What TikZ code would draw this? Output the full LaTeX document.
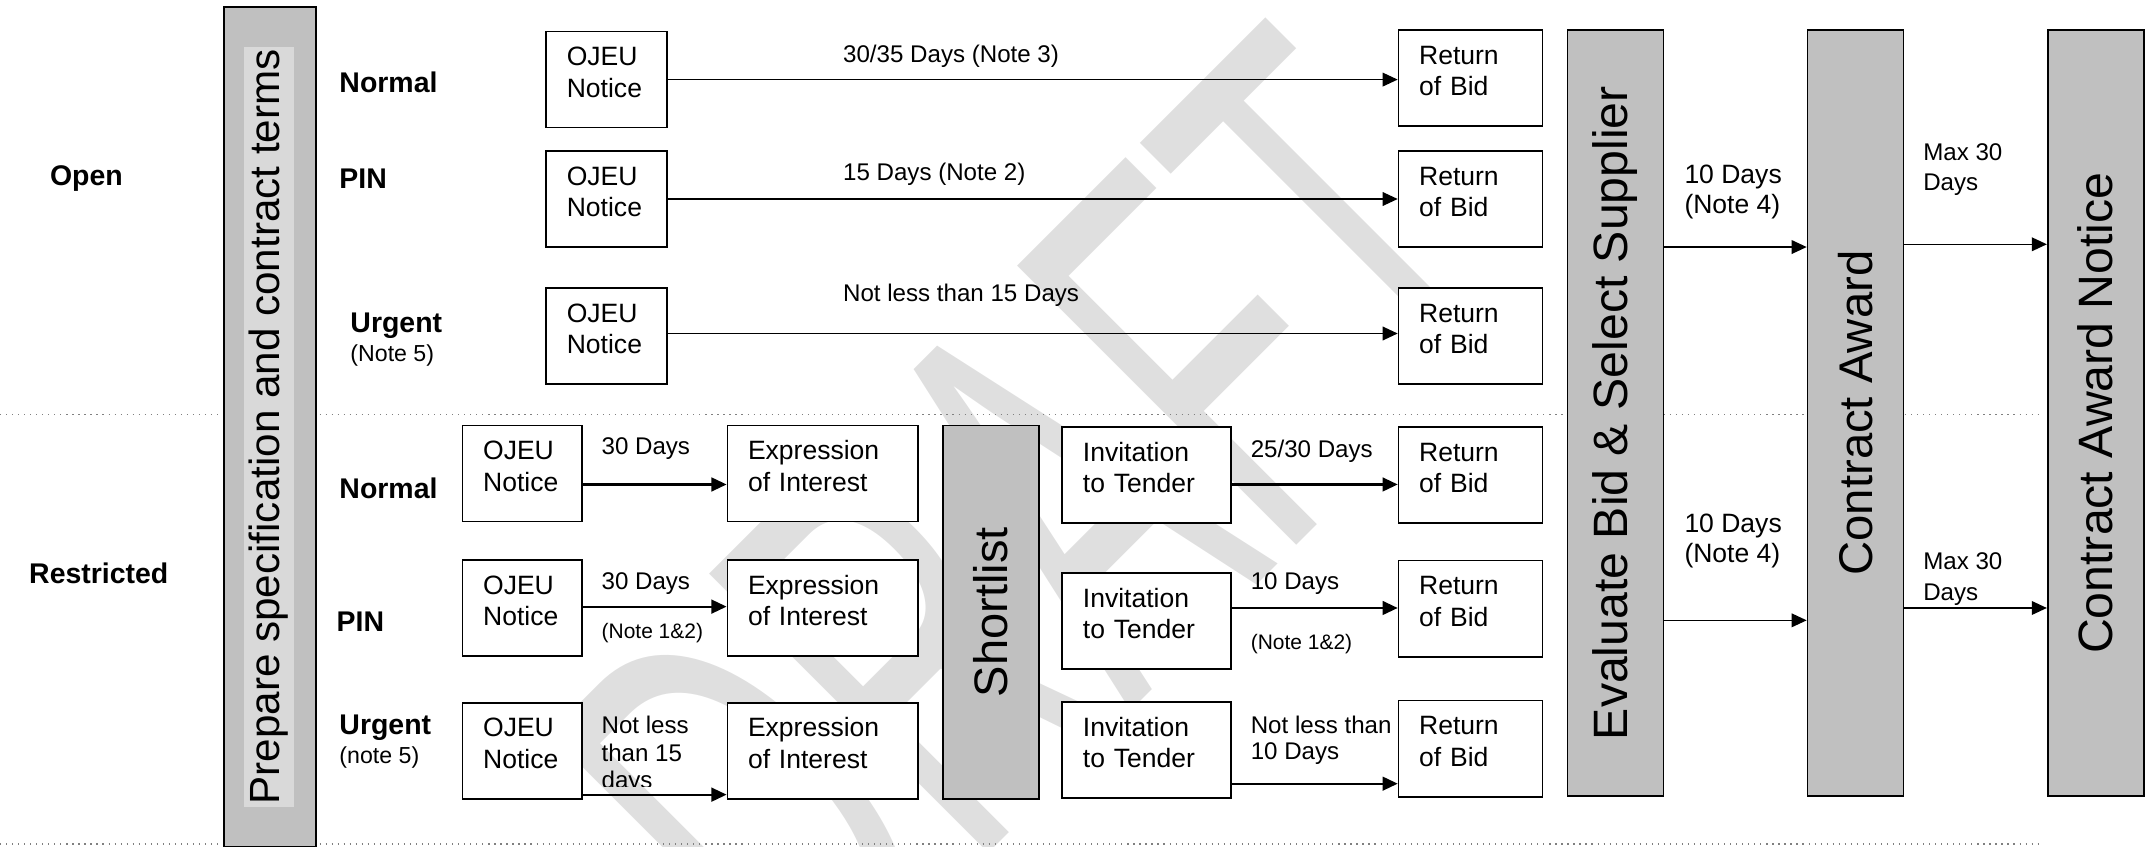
\documentclass[tikz,border=0pt]{standalone}
\usepackage{fontspec}
\setmainfont{Liberation Sans}
\usetikzlibrary{arrows.meta}
\definecolor{colgray}{RGB}{192,192,192}
\definecolor{stripgray}{RGB}{217,217,217}

\begin{document}
\begin{tikzpicture}[x=0.02cm,y=-0.02cm,>={Triangle[length=2.2mm,width=2mm]},
	box/.style={draw,fill=white,line width=.7pt,minimum height=1.4cm,inner xsep=.3cm,text width=#1,align=left,text height=8pt,text depth=19.4pt,font=\fontsize{11}{13}\selectfont},
	col/.style={draw,fill=colgray,line width=.7pt,minimum width=1.4cm},
	coltext/.style={rotate=90,inner sep=0pt,font=\fontsize{20}{22}\selectfont},
	rowlab/.style={anchor=west,inner sep=0pt,font=\bfseries\fontsize{11.8}{14}\selectfont},
	days/.style={anchor=west,align=left,inner sep=0pt,font=\fontsize{10}{10.8}\selectfont},
	note/.style={anchor=west,inner sep=0pt,font=\fontsize{8.7}{10}\selectfont}]
\useasboundingbox (0,0) rectangle (1568,617);

% watermark
\begin{scope}
\clip (0,0) rectangle (1568,617);
\begin{scope}[shift={(1129.5,212.5)},rotate=45,xscale=0.547]
\node[anchor=base east,inner sep=0pt,transform shape,text=gray!25,font=\fontsize{238}{238}\selectfont] (draft) at (0,0) {DRAFT};
\end{scope}
\end{scope}

\draw[dotted,line width=.5pt,gray] (0,302) -- (1487,302);
\draw[dotted,line width=.5pt,gray] (0,615) -- (1487,615);

% procedures and variants
\node[font=\bfseries\fontsize{11.8}{14}\selectfont] (open) at (63,130) {Open};
\node[font=\bfseries\fontsize{11.8}{14}\selectfont] (restr) at (72,418) {Restricted};
\node[col,minimum width=1.34cm,minimum height=12.24cm] (prep) at (196.5,311) {};
\node[rotate=90,fill=stripgray,minimum width=11.08cm,minimum height=.72cm,inner sep=0pt,font=\fontsize{17.5}{20}\selectfont] (prept) at (196,311) {Prepare specification and contract terms};

\node[rowlab] (onorm) at (247,60) {Normal};
\node[rowlab] (opin) at (247,130) {PIN};
\node[rowlab] (ourg) at (255,237) {Urgent};
\node[anchor=west,inner sep=0pt,font=\fontsize{9.6}{11}\selectfont] (onote) at (255,259) {(Note 5)};
\node[rowlab] (rnorm) at (247,356) {Normal};
\node[rowlab] (rpin) at (245,453) {PIN};
\node[rowlab] (rurg) at (247,530) {Urgent};
\node[anchor=west,inner sep=0pt,font=\fontsize{9.6}{11}\selectfont] (rnote) at (247,552) {(note 5)};

% open procedure
\node[box=1.16cm] (on1) at (442,58) {OJEU\\Notice};
\node[box=1.16cm] (on2) at (442,145) {OJEU\\Notice};
\node[box=1.16cm] (on3) at (442,245) {OJEU\\Notice};
\node[box=1.5cm] (ob1) at (1071.5,57) {Return\\of Bid};
\node[box=1.5cm] (ob2) at (1071.5,145) {Return\\of Bid};
\node[box=1.5cm] (ob3) at (1071.5,245) {Return\\of Bid};

% restricted procedure
\node[box=1.14cm] (rn1) at (380.5,345) {OJEU\\Notice};
\node[box=1.14cm] (rn2) at (380.5,443) {OJEU\\Notice};
\node[box=1.14cm] (rn3) at (380.5,547) {OJEU\\Notice};
\node[box=2.18cm] (re1) at (599.5,345) {Expression\\of Interest};
\node[box=2.18cm] (re2) at (599.5,443) {Expression\\of Interest};
\node[box=2.18cm] (re3) at (599.5,547) {Expression\\of Interest};
\node[col,minimum height=5.44cm] (short) at (722,446) {};
\node[coltext,font=\fontsize{19.5}{22}\selectfont] (shortt) at (short) {Shortlist};
\node[box=1.86cm] (ri1) at (835.5,346) {Invitation\\to Tender};
\node[box=1.86cm] (ri2) at (835.5,452.5) {Invitation\\to Tender};
\node[box=1.86cm] (ri3) at (835.5,546.5) {Invitation\\to Tender};
\node[box=1.5cm] (rb1) at (1071.5,346) {Return\\of Bid};
\node[box=1.5cm] (rb2) at (1071.5,443.5) {Return\\of Bid};
\node[box=1.5cm] (rb3) at (1071.5,545.5) {Return\\of Bid};

% award
\node[col,minimum height=11.16cm] (eval) at (1177,301) {};
\node[coltext] (evalt) at (eval) {Evaluate Bid \& Select Supplier};
\node[col,minimum height=11.16cm] (award) at (1352,301) {};
\node[coltext,font=\fontsize{19.6}{22}\selectfont] (awardt) at (award) {Contract Award};
\node[col,minimum height=11.16cm] (notice) at (1527,301) {};
\node[coltext] (noticet) at (notice) {Contract Award Notice};

% time limits
\draw[->,line width=.6pt] (on1.east |- 0,58) -- (ob1.west |- 0,58);
\draw[->,line width=.6pt] (on2.east |- 0,145) -- (ob2.west |- 0,145);
\draw[->,line width=.6pt] (on3.east |- 0,243) -- (ob3.west |- 0,243);
\node[days] (d1) at (614,41) {30/35 Days (Note 3)};
\node[days] (d2) at (614,127) {15 Days (Note 2)};
\node[days] (d3) at (614,215) {Not less than 15 Days};

\draw[->,line width=.9pt] (rn1.east |- 0,353) -- (re1.west |- 0,353);
\draw[->,line width=.9pt] (rn2.east |- 0,442) -- (re2.west |- 0,442);
\draw[->,line width=.9pt] (rn3.east |- 0,579) -- (re3.west |- 0,579);
\node[days] (d4) at (438,327) {30 Days};
\node[days] (d5) at (438,425) {30 Days};
\node[note] (d5n) at (438,461) {(Note 1\&2)};
\begin{scope}
\clip (430,512) rectangle (525,573);
\node[days,font=\fontsize{10}{11.4}\selectfont] (d6) at (438,550) {Not less\\than 15\\days};
\end{scope}

\draw[->,line width=.9pt] (ri1.east |- 0,353) -- (rb1.west |- 0,353);
\draw[->,line width=.9pt] (ri2.east |- 0,443) -- (rb2.west |- 0,443);
\draw[->,line width=.9pt] (ri3.east |- 0,571) -- (rb3.west |- 0,571);
\node[days] (d7) at (911,329) {25/30 Days};
\node[days] (d8) at (911,425) {10 Days};
\node[note] (d8n) at (911,469) {(Note 1\&2)};
\node[days] (d9) at (911,539.5) {Not less than\\10 Days};

\draw[->,line width=.6pt] (eval.east |- 0,180) -- (award.west |- 0,180);
\draw[->,line width=.6pt] (eval.east |- 0,452) -- (award.west |- 0,452);
\draw[->,line width=.6pt] (award.east |- 0,178) -- (notice.west |- 0,178);
\draw[->,line width=.6pt] (award.east |- 0,443) -- (notice.west |- 0,443);
\node[days,font=\fontsize{11}{12.5}\selectfont] (d10) at (1227,140) {10 Days\\(Note 4)};
\node[days,font=\fontsize{11}{12.5}\selectfont] (d11) at (1227,394) {10 Days\\(Note 4)};
\node[days,font=\fontsize{10}{12.7}\selectfont] (d12) at (1401,123.5) {Max 30\\Days};
\node[days,font=\fontsize{10}{12.7}\selectfont] (d13) at (1401,422) {Max 30\\Days};
\end{tikzpicture}
\end{document}
